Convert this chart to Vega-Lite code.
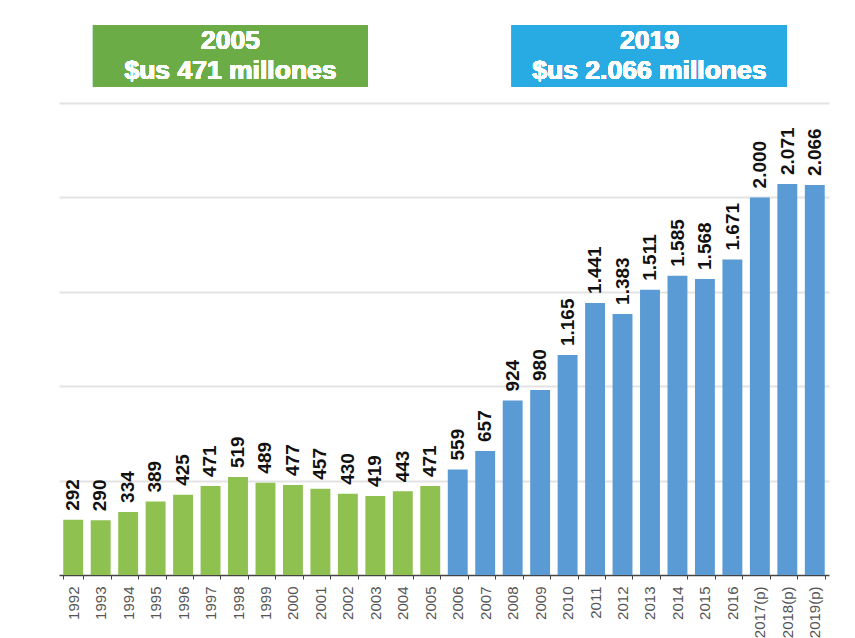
{
  "$schema": "https://vega.github.io/schema/vega-lite/v6.json",
  "width": 770,
  "height": 472,
  "autosize": {"type": "none"},
  "padding": {"left": 59, "top": 103, "right": 26, "bottom": 63},
  "background": "white",
  "config": {
    "view": {"stroke": null},
    "font": "Liberation Sans",
    "locale": {"number": {"decimal": ",", "thousands": ".", "grouping": [3], "currency": ["$", ""]}}
  },
  "data": {
    "values": [
      {"year": "1992", "value": 292, "period": "1992-2005"},
      {"year": "1993", "value": 290, "period": "1992-2005"},
      {"year": "1994", "value": 334, "period": "1992-2005"},
      {"year": "1995", "value": 389, "period": "1992-2005"},
      {"year": "1996", "value": 425, "period": "1992-2005"},
      {"year": "1997", "value": 471, "period": "1992-2005"},
      {"year": "1998", "value": 519, "period": "1992-2005"},
      {"year": "1999", "value": 489, "period": "1992-2005"},
      {"year": "2000", "value": 477, "period": "1992-2005"},
      {"year": "2001", "value": 457, "period": "1992-2005"},
      {"year": "2002", "value": 430, "period": "1992-2005"},
      {"year": "2003", "value": 419, "period": "1992-2005"},
      {"year": "2004", "value": 443, "period": "1992-2005"},
      {"year": "2005", "value": 471, "period": "1992-2005"},
      {"year": "2006", "value": 559, "period": "2006-2019"},
      {"year": "2007", "value": 657, "period": "2006-2019"},
      {"year": "2008", "value": 924, "period": "2006-2019"},
      {"year": "2009", "value": 980, "period": "2006-2019"},
      {"year": "2010", "value": 1165, "period": "2006-2019"},
      {"year": "2011", "value": 1441, "period": "2006-2019"},
      {"year": "2012", "value": 1383, "period": "2006-2019"},
      {"year": "2013", "value": 1511, "period": "2006-2019"},
      {"year": "2014", "value": 1585, "period": "2006-2019"},
      {"year": "2015", "value": 1568, "period": "2006-2019"},
      {"year": "2016", "value": 1671, "period": "2006-2019"},
      {"year": "2017(p)", "value": 2000, "period": "2006-2019"},
      {"year": "2018(p)", "value": 2071, "period": "2006-2019"},
      {"year": "2019(p)", "value": 2066, "period": "2006-2019"}
    ]
  },
  "resolve": {"scale": {"x": "independent"}},
  "layer": [
    {
      "mark": {"type": "bar"},
      "encoding": {
        "x": {
          "field": "year", "type": "nominal", "sort": null,
          "scale": {"paddingInner": 0.275, "paddingOuter": 0.155},
          "axis": {
            "title": null, "labelAngle": -90, "labelFontSize": 15, "labelColor": "#555",
            "labelPadding": 7, "tickBand": "extent", "tickSize": 4, "tickColor": "#444",
            "domainColor": "#444", "domainWidth": 1.5, "labelFont": "Liberation Sans"
          }
        },
        "y": {
          "field": "value", "type": "quantitative",
          "scale": {"domain": [0, 2500], "nice": false},
          "axis": {
            "title": null, "labels": false, "ticks": false, "domain": false,
            "values": [500, 1000, 1500, 2000, 2500], "gridColor": "#e3e3e3", "gridWidth": 2
          }
        },
        "color": {
          "field": "period", "type": "nominal",
          "scale": {"domain": ["1992-2005", "2006-2019"], "range": ["#8ec150", "#5b9bd5"]},
          "legend": null
        }
      }
    },
    {
      "mark": {"type": "text", "angle": 270, "align": "left", "baseline": "middle", "dx": 9, "fontSize": 19, "fontWeight": "bold", "color": "#111"},
      "encoding": {
        "x": {"field": "year", "type": "nominal", "sort": null, "scale": {"paddingInner": 0.275, "paddingOuter": 0.155}, "axis": null},
        "y": {"field": "value", "type": "quantitative"},
        "text": {"field": "value", "type": "quantitative", "format": ",d"}
      }
    },
    {
      "mark": {"type": "rect", "color": "#6cac47"},
      "encoding": {
        "x": {"datum": 1.236, "type": "quantitative", "scale": {"domain": [0, 28], "nice": false, "zero": false}, "axis": null},
        "x2": {"datum": 11.236},
        "y": {"datum": 2913, "type": "quantitative"},
        "y2": {"datum": 2585}
      }
    },
    {
      "mark": {"type": "text", "color": "white", "fontSize": 26.5, "fontWeight": "bold", "lineHeight": 30, "align": "center", "baseline": "middle"},
      "encoding": {
        "x": {"datum": 6.236, "type": "quantitative", "scale": {"domain": [0, 28], "nice": false, "zero": false}, "axis": null},
        "y": {"datum": 2826, "type": "quantitative"},
        "text": {"value": ["2005", "$us 471 millones"]}
      }
    },
    {
      "mark": {"type": "rect", "color": "#28abe2"},
      "encoding": {
        "x": {"datum": 16.47, "type": "quantitative", "scale": {"domain": [0, 28], "nice": false, "zero": false}, "axis": null},
        "x2": {"datum": 26.47},
        "y": {"datum": 2913, "type": "quantitative"},
        "y2": {"datum": 2585}
      }
    },
    {
      "mark": {"type": "text", "color": "white", "fontSize": 26.5, "fontWeight": "bold", "lineHeight": 30, "align": "center", "baseline": "middle"},
      "encoding": {
        "x": {"datum": 21.47, "type": "quantitative", "scale": {"domain": [0, 28], "nice": false, "zero": false}, "axis": null},
        "y": {"datum": 2826, "type": "quantitative"},
        "text": {"value": ["2019", "$us 2.066 millones"]}
      }
    }
  ]
}
